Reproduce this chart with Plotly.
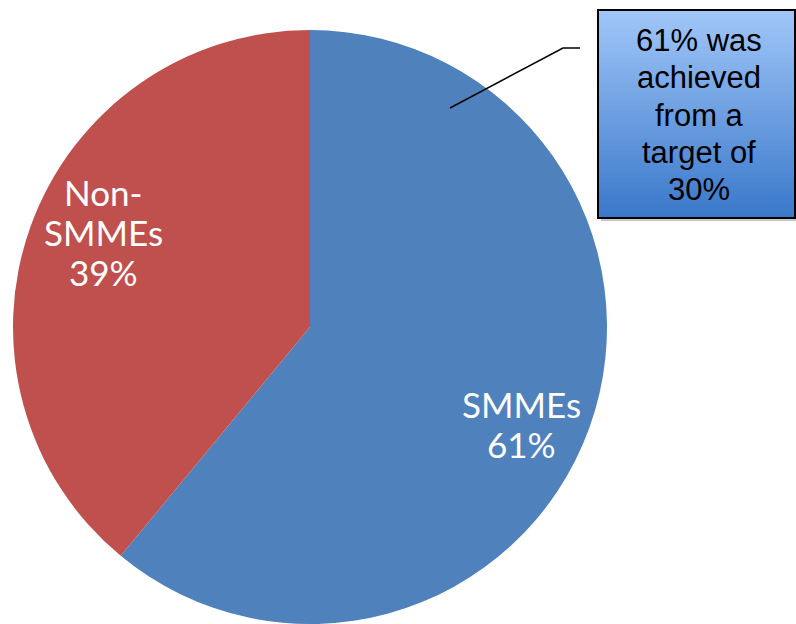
import plotly.graph_objects as go

categories = ["SMMEs", "Non-SMMEs"]
values = [61, 39]
colors = ["#4F81BD", "#C0504D"]
callout_lines = ["61% was", "achieved", "from a", "target of", "30%"]

W, H = 796, 624

def px(x):
    return x / W

def py(y):
    return 1 - y / H

fig = go.Figure(go.Pie(
    labels=categories, values=values, sort=False, direction="clockwise",
    rotation=0, marker=dict(colors=colors, line=dict(width=0)),
    textinfo="none", hoverinfo="label+percent", showlegend=False,
    domain=dict(x=[px(13), px(607)], y=[py(624), py(30)]),
))

shapes = []
# callout shadow
shapes.append(dict(type="rect", xref="paper", yref="paper",
                   x0=px(601), x1=px(799), y0=py(221), y1=py(13),
                   fillcolor="rgba(0,0,0,0.22)", line=dict(width=0), layer="above"))
# gradient box
x0b, x1b, y0b, y1b = 598, 795, 10, 218
n = 52
top = (160, 198, 248)
bot = (58, 120, 202)
for i in range(n):
    t = i / (n - 1)
    c = tuple(int(round(top[k] + (bot[k] - top[k]) * t)) for k in range(3))
    ya = y0b + (y1b - y0b) * i / n
    yb = y0b + (y1b - y0b) * (i + 1) / n + 0.6
    shapes.append(dict(type="rect", xref="paper", yref="paper",
                       x0=px(x0b), x1=px(x1b), y0=py(yb), y1=py(ya),
                       fillcolor="rgb(%d,%d,%d)" % c, line=dict(width=0), layer="above"))
shapes.append(dict(type="rect", xref="paper", yref="paper",
                   x0=px(x0b), x1=px(x1b), y0=py(y1b), y1=py(y0b),
                   fillcolor="rgba(0,0,0,0)", line=dict(color="black", width=2), layer="above"))
# leader line
shapes.append(dict(type="path", xref="paper", yref="paper",
                   path="M %f %f L %f %f L %f %f" % (px(450), py(108), px(563), py(48), px(580), py(48)),
                   line=dict(color="black", width=1.5), layer="above"))

annotations = []
callout_baselines = [50, 87.5, 125, 162.5, 199]
for txt, b in zip(callout_lines, callout_baselines):
    annotations.append(dict(text=txt, xref="paper", yref="paper",
                            x=px(699), y=py(b - 10), xanchor="center", yanchor="middle",
                            showarrow=False,
                            font=dict(family="Liberation Sans, Arial", size=31, color="black")))

label_font = dict(family="Lato, DejaVu Sans", size=35, color="white")
smme_lines = [categories[0], "%d%%" % values[0]]
for txt, b in zip(smme_lines, [415, 455]):
    annotations.append(dict(text=txt, xref="paper", yref="paper",
                            x=px(521), y=py(b - 11), xanchor="center", yanchor="middle",
                            showarrow=False, font=label_font))
non_lines = ["Non-", "SMMEs", "%d%%" % values[1]]
for txt, b in zip(non_lines, [203, 243, 283]):
    annotations.append(dict(text=txt, xref="paper", yref="paper",
                            x=px(103), y=py(b - 11), xanchor="center", yanchor="middle",
                            showarrow=False, font=label_font))

fig.update_layout(width=W, height=H, margin=dict(l=0, r=0, t=0, b=0),
                  paper_bgcolor="white", plot_bgcolor="white",
                  shapes=shapes, annotations=annotations)
fig.write_html("out.html", config={"displayModeBar": False},
               post_script="document.body.style.margin='0';document.body.style.overflow='hidden';")
